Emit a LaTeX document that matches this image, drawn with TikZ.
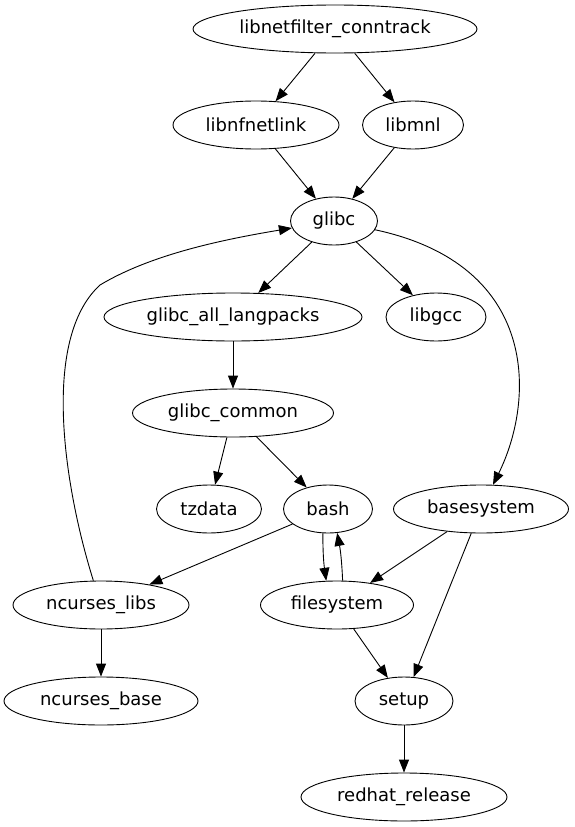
\documentclass[tikz,border=0pt]{standalone}
\usepackage{fontspec}
\setmainfont{DejaVu Sans}
\usetikzlibrary{arrows.meta, shapes.geometric}

\begin{document}
\begin{tikzpicture}[
    x=1pt, y=-1pt,
    pkg/.style={ellipse, draw, line width=0.9pt, minimum height=48pt, inner sep=0pt},
    arr/.style={-{Triangle[length=13pt, width=10pt]}, line width=0.9pt},
    every node/.style={font=\fontsize{18}{21}\selectfont}
]
\useasboundingbox (0,0) rectangle (574,827);

% --- packages ---
\node[pkg, minimum width=284pt] (conntrack) at (335,29) {libnetfilter\_conntrack};
\node[pkg, minimum width=166pt] (nfnetlink) at (256,125) {libnfnetlink};
\node[pkg, minimum width=101pt] (mnl) at (413,125) {libmnl};
\node[pkg, minimum width=87pt] (glibc) at (334,221) {glibc};
\node[pkg, minimum width=258pt] (langpacks) at (233,317) {glibc\_all\_langpacks};
\node[pkg, minimum width=100pt] (gcc) at (436,317) {libgcc};
\node[pkg, minimum width=201pt] (common) at (233,413) {glibc\_common};
\node[pkg, minimum width=105pt] (tzdata) at (209,509) {tzdata};
\node[pkg, minimum width=89pt] (bash) at (328,509) {bash};
\node[pkg, minimum width=175pt] (basesys) at (481,509) {basesystem};
\node[pkg, minimum width=176pt] (nclibs) at (101,605) {ncurses\_libs};
\node[pkg, minimum width=153pt] (filesys) at (337,605) {filesystem};
\node[pkg, minimum width=194pt] (ncbase) at (101,701) {ncurses\_base};
\node[pkg, minimum width=98pt] (setup) at (404,701) {setup};
\node[pkg, minimum width=206pt] (redhat) at (404,797) {redhat\_release};

% --- dependencies ---
\draw[arr] (conntrack) -- (nfnetlink);
\draw[arr] (conntrack) -- (mnl);
\draw[arr] (nfnetlink) -- (glibc);
\draw[arr] (mnl) -- (glibc);
\draw[arr] (glibc) -- (langpacks);
\draw[arr] (glibc) -- (gcc);
\draw[arr] (glibc) .. controls (540,265) and (535,400) .. (basesys);
\draw[arr] (langpacks) -- (common);
\draw[arr] (common) -- (tzdata);
\draw[arr] (common) -- (bash);
\draw[arr] (bash) -- (nclibs);
\draw[arr] (bash.258) to[bend right=4] (filesys.114);
\draw[arr] (filesys.77) to[bend right=4] (bash.-69);
\draw[arr] (basesys) -- (filesys);
\draw[arr] (basesys) -- (setup);
\draw[arr] (nclibs) .. controls (65,490) and (40,340) .. (100,285)
    .. controls (150,255) and (220,240) .. (glibc);
\draw[arr] (nclibs) -- (ncbase);
\draw[arr] (filesys) -- (setup);
\draw[arr] (setup) -- (redhat);
\end{tikzpicture}
\end{document}
